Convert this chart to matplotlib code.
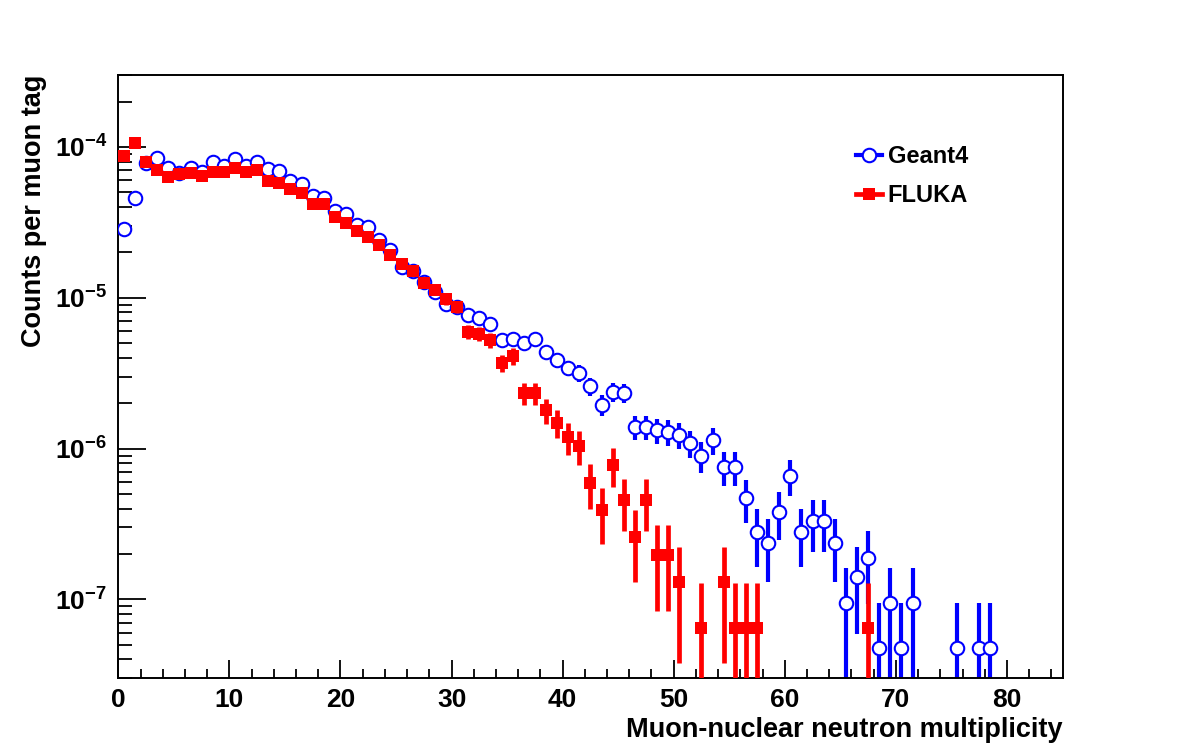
import numpy as np
import matplotlib
matplotlib.use('Agg')
import matplotlib.pyplot as plt
from matplotlib.lines import Line2D
from matplotlib.ticker import MultipleLocator, LogLocator, FuncFormatter, NullFormatter

plt.rcParams['font.family'] = ['Liberation Sans', 'DejaVu Sans']
plt.rcParams['font.weight'] = 'bold'
plt.rcParams['mathtext.fontset'] = 'custom'
plt.rcParams['mathtext.rm'] = 'Liberation Sans:bold'
plt.rcParams['mathtext.bf'] = 'Liberation Sans:bold'
plt.rcParams['mathtext.default'] = 'bf'

# ---- data (counts per muon tag, per unit bin of multiplicity; 0 = empty bin) ----
geant4_values = [
    2.86e-5, 4.59e-5, 7.83e-5, 8.45e-5, 7.26e-5, 6.72e-5, 7.26e-5, 6.83e-5, 7.95e-5, 7.48e-5,
    8.33e-5, 7.48e-5, 7.95e-5, 7.15e-5, 6.93e-5, 5.95e-5, 5.68e-5, 4.73e-5, 4.59e-5, 3.76e-5,
    3.60e-5, 3.04e-5, 2.95e-5, 2.42e-5, 2.07e-5, 1.60e-5, 1.51e-5, 1.27e-5, 1.09e-5, 9.10e-6,
    8.69e-6, 7.69e-6, 7.35e-6, 6.70e-6, 5.25e-6, 5.33e-6, 5.00e-6, 5.33e-6, 4.37e-6, 3.87e-6,
    3.42e-6, 3.17e-6, 2.60e-6, 1.95e-6, 2.37e-6, 2.34e-6, 1.39e-6, 1.39e-6, 1.33e-6, 1.29e-6,
    1.23e-6, 1.09e-6, 8.93e-7, 1.14e-6, 7.55e-7, 7.55e-7, 4.70e-7, 2.80e-7, 2.37e-7, 3.80e-7,
    6.58e-7, 2.80e-7, 3.31e-7, 3.31e-7, 2.37e-7, 9.46e-8, 1.41e-7, 1.88e-7, 4.76e-8, 9.46e-8,
    4.76e-8, 9.46e-8, 0, 0, 0, 4.76e-8, 0, 4.76e-8, 4.76e-8,
]
fluka_values = [
    8.72e-5, 1.063e-4, 7.95e-5, 7.04e-5, 6.33e-5, 6.62e-5, 6.72e-5, 6.42e-5, 6.83e-5, 6.83e-5,
    7.26e-5, 6.83e-5, 7.04e-5, 5.95e-5, 5.77e-5, 5.27e-5, 4.95e-5, 4.19e-5, 4.19e-5, 3.43e-5,
    3.13e-5, 2.77e-5, 2.53e-5, 2.24e-5, 1.92e-5, 1.67e-5, 1.51e-5, 1.25e-5, 1.13e-5, 9.82e-6,
    8.69e-6, 5.93e-6, 5.75e-6, 5.25e-6, 3.70e-6, 4.11e-6, 2.34e-6, 2.34e-6, 1.80e-6, 1.48e-6,
    1.19e-6, 1.04e-6, 5.91e-7, 3.92e-7, 7.78e-7, 4.56e-7, 2.60e-7, 4.56e-7, 1.97e-7, 1.97e-7,
    1.30e-7, 0, 6.46e-8, 0, 1.30e-7, 6.46e-8, 6.46e-8, 6.46e-8, 0, 0,
    0, 0, 0, 0, 0, 0, 0, 6.46e-8,
]
# weight of a single event (normalisation), used for Poisson error bars
geant4_unit = 4.73e-8
fluka_unit = 6.5e-8

x_label = 'Muon-nuclear neutron multiplicity'
y_label = 'Counts per muon tag'
series_names = ['Geant4', 'FLUKA']


def prep(values, unit):
    v = np.asarray(values, dtype=float)
    x = np.arange(len(v)) + 0.5
    m = v > 0
    x, v = x[m], v[m]
    err = np.sqrt(v * unit)
    lo = np.minimum(err, v - 1e-11)
    return x, v, lo, err


fig = plt.figure(figsize=(11.82, 7.55), dpi=100)
ax = fig.add_axes([118.3 / 1182, 1 - 678.3 / 755, (1062.5 - 118.3) / 1182, (678.3 - 75) / 755])

BLUE = '#0000ff'
RED = '#ff0000'

gx, gv, glo, ghi = prep(geant4_values, geant4_unit)
fx, fv, flo, fhi = prep(fluka_values, fluka_unit)

ax.errorbar(gx, gv, yerr=[glo, ghi], fmt='none', ecolor=BLUE, elinewidth=3.0, capsize=0, zorder=2)
ax.plot(gx, gv, ls='none', marker='o', ms=9.7, mfc='white', mec=BLUE, mew=1.5, zorder=3)
ax.errorbar(fx, fv, yerr=[flo, fhi], fmt='none', ecolor=RED, elinewidth=3.4, capsize=0, zorder=4)
ax.plot(fx, fv, ls='none', marker='s', ms=9.0, mfc=RED, mec=RED, mew=0, zorder=5)

ax.set_yscale('log')
ax.set_xlim(0, 85)
ax.set_ylim(3e-8, 3e-4)

ax.xaxis.set_major_locator(MultipleLocator(10))
ax.xaxis.set_minor_locator(MultipleLocator(2))
ax.xaxis.set_major_formatter(FuncFormatter(lambda v, p: '%d' % round(v)))
ax.yaxis.set_major_locator(LogLocator(base=10))
ax.yaxis.set_minor_locator(LogLocator(base=10, subs=np.arange(2, 10)))
ax.yaxis.set_major_formatter(FuncFormatter(lambda v, p: r'$10^{%d}$' % round(np.log10(v))))
ax.yaxis.set_minor_formatter(NullFormatter())

ax.tick_params(axis='both', which='both', direction='in', top=False, right=False,
               width=1.3, colors='black')
ax.tick_params(axis='x', which='major', length=13, pad=7, labelsize=19)
ax.tick_params(axis='x', which='minor', length=6.5)
ax.tick_params(axis='y', which='major', length=20, pad=8, labelsize=19)
ax.tick_params(axis='y', which='minor', length=10)
for lab in ax.get_xticklabels() + ax.get_yticklabels():
    lab.set_fontweight('bold')

for s in ax.spines.values():
    s.set_linewidth(1.4)

ax.set_xlabel(x_label, fontsize=19.5, fontweight='bold', ha='right')
ax.xaxis.set_label_coords(1.0, -0.064)
ax.set_ylabel(y_label, fontsize=19.5, fontweight='bold', ha='right')
ax.yaxis.set_label_coords(-0.075, 1.0)

handles = [
    Line2D([], [], color=BLUE, lw=3, marker='o', ms=9.7, mfc='white', mec=BLUE, mew=1.5),
    Line2D([], [], color=RED, lw=3.4, marker='s', ms=9.0, mfc=RED, mec=RED, mew=0),
]
leg = ax.legend(handles, series_names, loc='upper left', bbox_to_anchor=(0.781, 0.884),
                frameon=False, fontsize=17, handlelength=1.1, handletextpad=0.25,
                labelspacing=0.68, borderpad=0, borderaxespad=0)
for t in leg.get_texts():
    t.set_fontweight('bold')

fig.savefig('out.png', dpi=100, facecolor='white')
